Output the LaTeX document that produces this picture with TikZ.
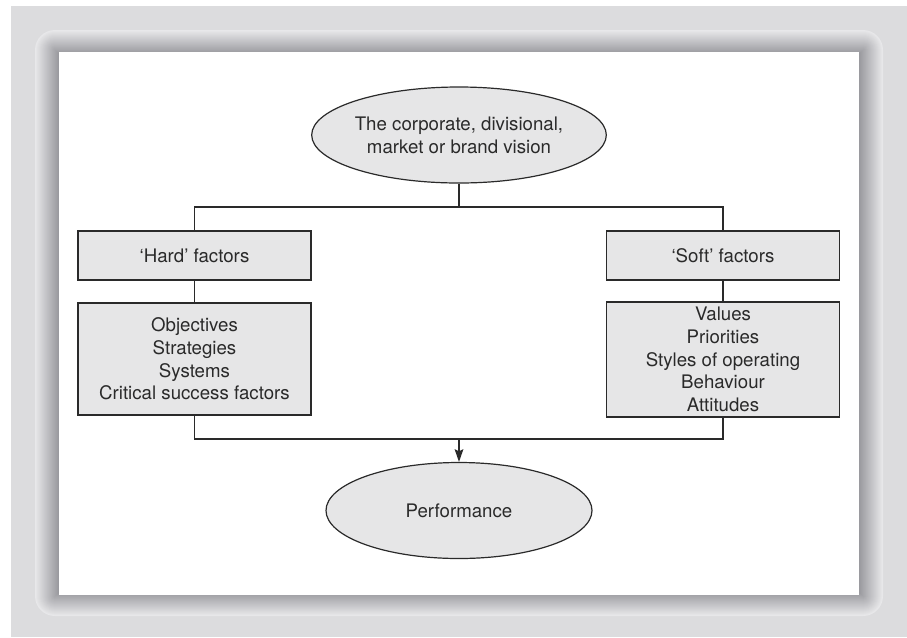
\documentclass[tikz,border=0pt]{standalone}
\usepackage{fontspec}
\setmainfont{TeX Gyre Heros}
\usetikzlibrary{shapes.geometric,arrows.meta}
\definecolor{pagegray}{HTML}{DCDCDE}
\definecolor{framelight}{HTML}{E8E8EA}
\definecolor{framedark}{HTML}{9A9A9F}
\definecolor{boxgray}{HTML}{E6E6E7}
\definecolor{inkgray}{HTML}{2A2A2A}

\begin{document}
\begin{tikzpicture}[x=0.75pt,y=-0.75pt,
    every node/.style={text=inkgray,font=\fontsize{14}{17}\selectfont,align=center,inner sep=0pt},
    factorbox/.style={draw=inkgray,fill=boxgray,line width=0.9pt,minimum width=174.75pt},
    oval/.style={ellipse,draw=inkgray,fill=boxgray,line width=0.9pt,minimum width=199.5pt,minimum height=72pt},
    link/.style={draw=inkgray,line width=0.9pt}]
    \useasboundingbox (0,0) rectangle (907,637);
    \fill [white] (0,0) rectangle (907,637);
    \fill [pagegray] (11,6) rectangle (907,637);
    % shaded frame round the white panel
    \foreach \i in {0,...,23} {
        \pgfmathsetmacro{\p}{100*\i/23}
        \pgfmathsetmacro{\r}{max(20-\i,0.01)*0.75}
        \fill [framedark!\p!framelight, rounded corners=\r pt] (35+\i,30+\i) rectangle (883-\i,616-\i);
    }
    \fill [white] (59,52) rectangle (859,595);

    \node [oval] (vision) at (459,135) {The corporate, divisional,\\market or brand vision};
    \node [factorbox,minimum height=36.75pt] (hard) at (194.5,255.5) {‘Hard’ factors};
    \node [factorbox,minimum height=36.75pt] (soft) at (723,255.5) {‘Soft’ factors};
    \node [factorbox,minimum height=84pt] (hardlist) at (194.5,359) {Objectives\\Strategies\\Systems\\Critical success factors};
    \node [factorbox,minimum height=86.25pt] (softlist) at (723,359.5) {Values\\Priorities\\Styles of operating\\Behaviour\\Attitudes};
    \node [oval] (perf) at (459,510.5) {Performance};

    \coordinate (split) at (459,207);
    \coordinate (join) at (459,439);
    \draw [link] (vision.south) -- (split);
    \draw [link] (hard.north) |- (split) -| (soft.north);
    \draw [link] (hard) -- (hardlist);
    \draw [link] (soft) -- (softlist);
    \draw [link] (hardlist.south) |- (join) -| (softlist.south);
    \draw [link,-{Stealth[length=9.5pt,width=6.5pt,inset=1.5pt]}] (join) -- (perf.north);
\end{tikzpicture}
\end{document}
